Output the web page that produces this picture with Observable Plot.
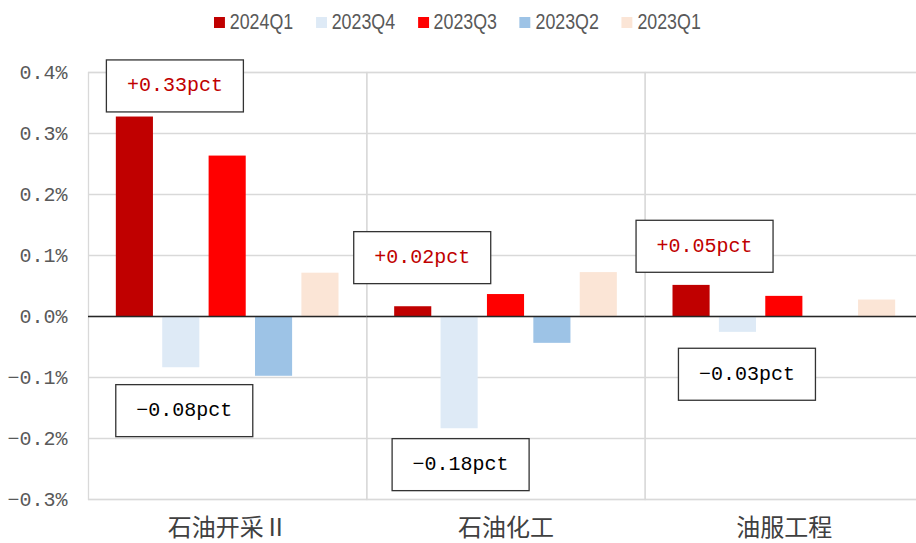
<!DOCTYPE html>
<html>
<head>
<meta charset="utf-8">
<script src="https://cdn.jsdelivr.net/npm/d3@7"></script>
<script src="https://cdn.jsdelivr.net/npm/@observablehq/plot@0.6"></script>
<style>
  html, body { margin: 0; padding: 0; background: #fff; overflow: hidden; }
  #legend { height: 44px; display: flex; align-items: center; padding-left: 214px; }
  #legend > * { transform: scaleX(0.81); transform-origin: left center; }
  .lg-swatches { margin: 0 !important; min-height: 0 !important; white-space: nowrap; flex-wrap: nowrap !important; }
  .lg-swatch { margin-right: 28px !important; }
  .lg-swatch > svg { margin-right: 6px !important; }
  #chart svg { display: block; max-width: none !important; }
</style>
</head>
<body>
<div id="legend"></div>
<div id="chart"></div>
<script>
// Industry groups along the horizontal axis
const categories = ["石油开采Ⅱ", "石油化工", "油服工程"];
// Quarterly series (one bar each per industry)
const quarters = ["2024Q1", "2023Q4", "2023Q3", "2023Q2", "2023Q1"];
const quarterColors = ["#c00000", "#deeaf6", "#ff0000", "#9dc3e6", "#fbe5d6"];
// Values in %, per quarter, ordered like categories
const q2024Q1 = [0.327, 0.016, 0.051];
const q2023Q4 = [-0.084, -0.184, -0.026];
const q2023Q3 = [0.263, 0.036, 0.033];
const q2023Q2 = [-0.098, -0.044, null];
const q2023Q1 = [0.071, 0.072, 0.027];
// Y-axis ticks (%)
const yTicks = [-0.3, -0.2, -0.1, 0, 0.1, 0.2, 0.3, 0.4];

const seriesValues = [q2024Q1, q2023Q4, q2023Q3, q2023Q2, q2023Q1];
const rows = [];
categories.forEach((c, i) => {
  quarters.forEach((q, j) => rows.push({category: c, quarter: q, value: seriesValues[j][i]}));
});

// Callouts state the latest two quarters' values; offsets place each box beside its bar
const callouts = [
  {quarter: "2024Q1", category: "石油开采Ⅱ", dx: 40, dy: -32},
  {quarter: "2023Q4", category: "石油开采Ⅱ", dx: 3, dy: 42},
  {quarter: "2024Q1", category: "石油化工", dx: 9, dy: -50},
  {quarter: "2023Q4", category: "石油化工", dx: 1, dy: 35},
  {quarter: "2024Q1", category: "油服工程", dx: 13, dy: -40},
  {quarter: "2023Q4", category: "油服工程", dx: 9, dy: 41}
].map(d => {
  const v = rows.find(r => r.quarter === d.quarter && r.category === d.category).value;
  return {...d, value: v, label: (v >= 0 ? "+" : "\u2212") + Math.abs(v).toFixed(2) + "pct"};
});

const fmtPct = d => (d < 0 ? "\u2212" : "") + Math.abs(d).toFixed(1) + "%";
const monoFont = "'Liberation Mono', 'DejaVu Sans Mono', monospace";

const legend = Plot.legend({
  color: {domain: quarters, range: quarterColors},
  legend: "swatches",
  swatchWidth: 13.5,
  swatchHeight: 11,
  className: "lg",
  style: {fontFamily: "'Liberation Sans', Arial, sans-serif", fontSize: "22px", color: "#595959"}
});
document.getElementById("legend").appendChild(legend);

const calloutMarks = callouts.map(d => Plot.text([d], {
  fx: "category", x: "quarter", y: "value", text: "label",
  dx: d.dx, dy: d.dy,
  fill: d.value >= 0 ? "#c00000" : "#000000",
  fontFamily: monoFont,
  fontSize: 20
}));

const chart = Plot.plot({
  width: 923,
  height: 499,
  marginLeft: 88,
  marginRight: 0,
  marginTop: 28,
  marginBottom: 44,
  style: {background: "#fff"},
  fx: {domain: categories, padding: 0, round: false, label: null},
  x: {domain: quarters, paddingInner: 0.2, paddingOuter: 0.6, round: false, axis: null},
  y: {domain: [-0.3, 0.4], label: null},
  color: {domain: quarters, range: quarterColors},
  marks: [
    Plot.gridY(yTicks, {stroke: "#d9d9d9", strokeOpacity: 1, strokeWidth: 1.3}),
    Plot.frame({stroke: "#d9d9d9", strokeWidth: 1.3}),
    Plot.barY(rows.filter(r => r.value != null), {fx: "category", x: "quarter", y: "value", fill: "quarter"}),
    Plot.ruleY([0], {stroke: "#262626", strokeWidth: 1.3}),
    Plot.axisY(yTicks, {
      tickSize: 0, tickPadding: 21, tickFormat: fmtPct,
      fontFamily: monoFont, fontSize: 20, fill: "#595959", label: null
    }),
    Plot.axisFx({
      anchor: "bottom", tickSize: 0, tickPadding: 19, label: null,
      fontFamily: "'Noto Sans CJK SC', sans-serif", fontSize: 24, fill: "#404040"
    }),
    ...calloutMarks
  ]
});
document.getElementById("chart").appendChild(chart);

// Framed boxes behind each callout label
const boxW = 137, boxH = 52;
chart.querySelectorAll('g[aria-label="text"] text').forEach(t => {
  const b = t.getBBox();
  const cx = b.x + b.width / 2, cy = b.y + b.height / 2;
  const r = document.createElementNS("http://www.w3.org/2000/svg", "rect");
  r.setAttribute("x", cx - boxW / 2);
  r.setAttribute("y", cy - boxH / 2);
  r.setAttribute("width", boxW);
  r.setAttribute("height", boxH);
  r.setAttribute("fill", "#fff");
  r.setAttribute("stroke", "#333");
  r.setAttribute("stroke-width", 1.3);
  const tr = t.getAttribute("transform");
  if (tr) r.setAttribute("transform", tr);
  t.parentNode.insertBefore(r, t);
});
</script>
</body>
</html>
